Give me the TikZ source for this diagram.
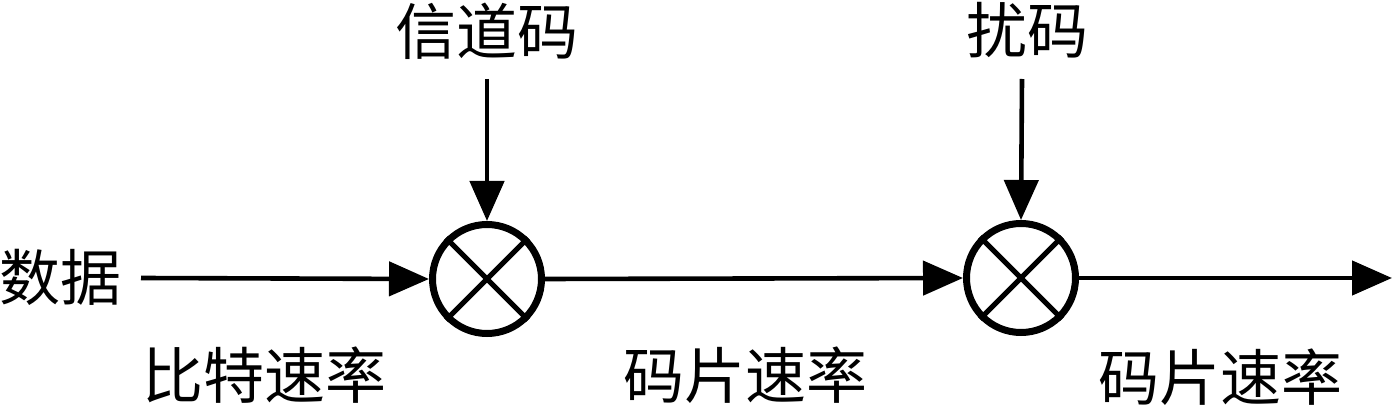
\documentclass[tikz,border=0pt]{standalone}
\usepackage{fontspec}
\newfontfamily\cjk{Noto Sans CJK SC}
\usetikzlibrary{arrows.meta}
\begin{document}
\begin{tikzpicture}[x=0.5pt,y=-0.5pt,
  lbl/.style={inner sep=0pt,font=\cjk\fontsize{30.5pt}{30.5pt}\selectfont},
  mixer/.style={circle,draw,line width=3.5pt,minimum size=54.5pt,inner sep=0pt},
  conn/.style={line width=2.3pt,-{Triangle[length=20pt,width=17pt]}},
  crossl/.style={line width=2.5pt}]
\useasboundingbox (0,0) rectangle (1392,406);
\node[mixer] (m1) at (487,279) {};
\node[mixer] (m2) at (1021,278) {};
\draw[crossl] (m1.north west) -- (m1.south east) (m1.north east) -- (m1.south west);
\draw[crossl] (m2.north west) -- (m2.south east) (m2.north east) -- (m2.south west);
\node[lbl] (chan) at (487,31) {信道码};
\node[lbl] (scr) at (1027,30) {扰码};
\node[lbl] (data) at (60,277) {数据};
\node[lbl] (r1) at (264,375) {比特速率};
\node[lbl] (r2) at (745,375) {码片速率};
\node[lbl] (r3) at (1220,377) {码片速率};
\coordinate (din) at (141,278);
\coordinate (cin) at (487,79);
\coordinate (sin) at (1022,79);
\coordinate (out) at (1392,278);
\draw[conn] (din) -- (m1.west);
\draw[conn] (cin) -- (m1.north);
\draw[conn] (m1.east) -- (m2.west);
\draw[conn] (sin) -- (m2.north);
\draw[conn] (m2.east) -- (out);
\end{tikzpicture}
\end{document}
